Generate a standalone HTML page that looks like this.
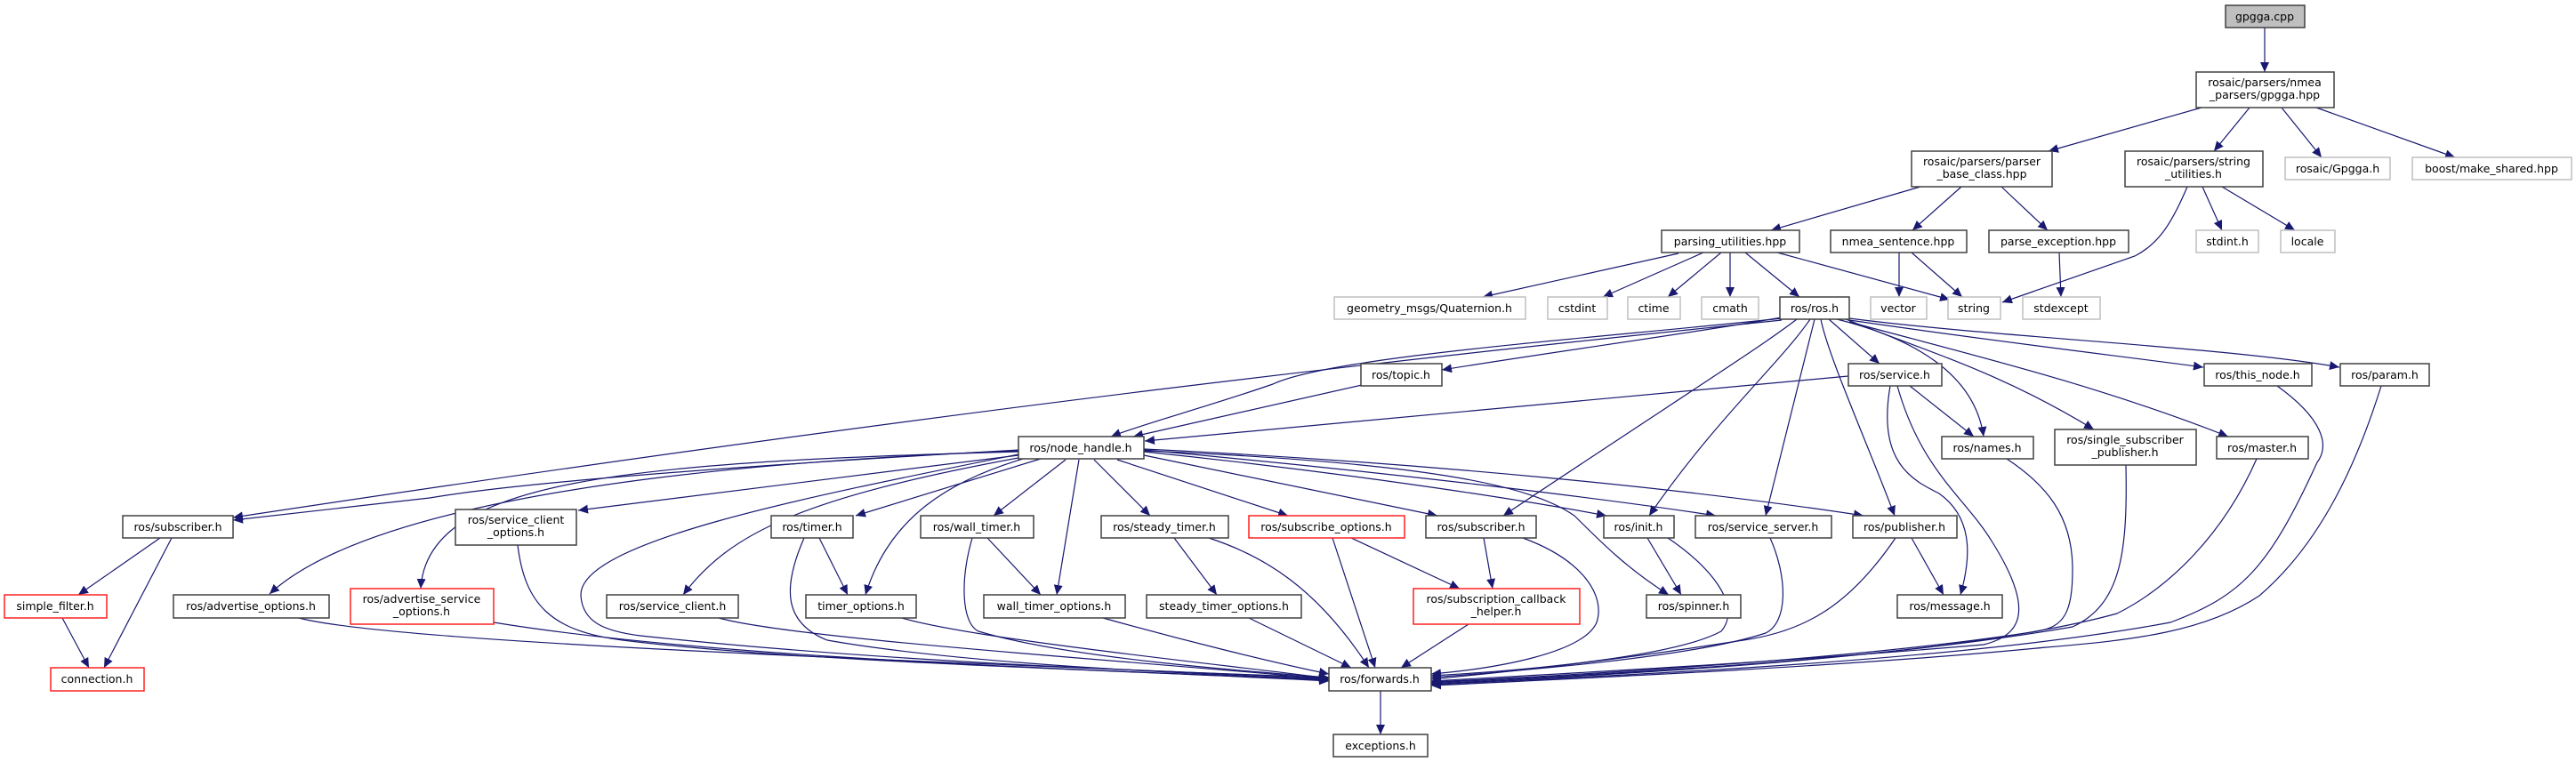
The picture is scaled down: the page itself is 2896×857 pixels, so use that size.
<!DOCTYPE html>
<html><head><meta charset="utf-8"><style>
html,body{margin:0;padding:0;background:#fff;}
svg{display:block;}
text{font-family:"DejaVu Sans","Liberation Sans",sans-serif;font-size:12.5px;fill:#000;text-anchor:middle;}
.n{fill:#fff;stroke:#404040;stroke-width:1.5;}
.g{fill:#fff;stroke:#bfbfbf;stroke-width:1.5;}
.r{fill:#fff;stroke:#ff2020;stroke-width:1.5;}
.e{fill:none;stroke:#191970;stroke-width:1.2;marker-end:url(#a);}
</style></head><body>
<svg width="2896" height="857" viewBox="0 0 2896 857" xmlns="http://www.w3.org/2000/svg">
<defs><marker id="a" markerUnits="userSpaceOnUse" markerWidth="12" markerHeight="10" refX="11" refY="5" orient="auto"><path d="M0,0 L11,5 L0,10 z" fill="#191970"/></marker></defs>
<g>
<path class="e" d="M2546,31 L2546,81"/>
<path class="e" d="M2475,121 L2303,170"/>
<path class="e" d="M2529,121 L2489,170"/>
<path class="e" d="M2565,121 L2610,177"/>
<path class="e" d="M2604,121 L2760,177"/>
<path class="e" d="M2159,210 L1991,259"/>
<path class="e" d="M2205,210 L2150,259"/>
<path class="e" d="M2250,210 L2302,259"/>
<path class="e" d="M2459,210 C2440,255 2425,275 2400,288 L2251,340"/>
<path class="e" d="M2476,210 L2498,259"/>
<path class="e" d="M2498,210 L2580,259"/>
<path class="e" d="M1887,285 L1667,334"/>
<path class="e" d="M1915,284 L1802,334"/>
<path class="e" d="M1935,284 L1875,334"/>
<path class="e" d="M1945,284 L1945,334"/>
<path class="e" d="M1962,284 L2023,334"/>
<path class="e" d="M1998,284 L2192,337"/>
<path class="e" d="M2135,284 L2135,334"/>
<path class="e" d="M2149,284 L2206,334"/>
<path class="e" d="M2315,284 L2317,334"/>
<path class="e" d="M2003,357 C1900,375 1750,395 1621,416"/>
<path class="e" d="M2003,358 C1800,380 1500,400 1431,432 C1350,460 1290,475 1249,491"/>
<path class="e" d="M1531,433 L1274,491"/>
<path class="e" d="M2078,423 L1287,496"/>
<path class="e" d="M2003,360 C1700,392 1200,440 262,582"/>
<path class="e" d="M2056,359 L2113,409"/>
<path class="e" d="M2020,359 C1980,390 1900,440 1690,580"/>
<path class="e" d="M2035,359 C2000,410 1930,470 1854,580"/>
<path class="e" d="M2040,359 L1985,580"/>
<path class="e" d="M2047,359 C2055,400 2100,500 2130,580"/>
<path class="e" d="M2147,434 L2219,491"/>
<path class="e" d="M2065,359 C2150,380 2220,420 2230,491"/>
<path class="e" d="M2075,359 C2180,400 2250,420 2354,483"/>
<path class="e" d="M2079,362 C2200,395 2350,430 2505,491"/>
<path class="e" d="M2079,360 C2250,385 2380,400 2477,413"/>
<path class="e" d="M2079,358 C2250,380 2500,390 2630,413"/>
<path class="e" d="M2125,434 C2110,520 2150,540 2180,555 C2215,580 2218,620 2204,669"/>
<path class="e" d="M2133,434 C2160,530 2210,560 2240,610 C2290,690 2270,715 2230,725 C2000,745 1750,758 1609,766"/>
<path class="e" d="M2256,516 C2300,545 2330,580 2330,640 C2330,690 2320,705 2290,710 C2100,740 1800,758 1609,767"/>
<path class="e" d="M2390,523 C2392,620 2385,680 2330,705 C2100,745 1800,758 1609,768"/>
<path class="e" d="M2537,516 C2500,600 2440,660 2380,690 C2200,740 1800,760 1609,769"/>
<path class="e" d="M2560,434 C2610,470 2620,500 2605,520 C2550,640 2520,670 2440,700 C2200,745 1800,760 1609,770"/>
<path class="e" d="M2677,434 C2650,520 2610,610 2540,670 C2480,710 2400,720 2300,728 C2100,748 1800,762 1609,771"/>
<path class="e" d="M1145,506 C900,520 600,540 483,560 L262,585"/>
<path class="e" d="M1145,507 C800,520 420,560 303,668"/>
<path class="e" d="M1145,508 C700,520 480,540 473,662"/>
<path class="e" d="M1145,512 L650,574"/>
<path class="e" d="M1150,514 C900,560 820,600 768,669"/>
<path class="e" d="M1170,516 L962,580"/>
<path class="e" d="M1150,516 C1070,540 1000,580 973,669"/>
<path class="e" d="M1198,517 L1117,580"/>
<path class="e" d="M1213,517 L1188,669"/>
<path class="e" d="M1230,517 L1293,580"/>
<path class="e" d="M1256,517 L1448,580"/>
<path class="e" d="M1286,512 L1616,580"/>
<path class="e" d="M1286,508 C1500,530 1700,560 1806,580"/>
<path class="e" d="M1286,506 C1550,530 1800,560 1929,580"/>
<path class="e" d="M1286,505 C1600,520 1900,550 2095,580"/>
<path class="e" d="M1286,507 C1600,520 1720,545 1770,580 C1800,610 1830,640 1876,669"/>
<path class="e" d="M1145,511 C900,560 650,610 653,670 C655,700 680,710 720,715 C1000,745 1300,755 1494,762"/>
<path class="e" d="M180,605 L88,669"/>
<path class="e" d="M193,605 L117,751"/>
<path class="e" d="M70,695 L100,751"/>
<path class="e" d="M336,695 C450,725 1100,745 1494,763"/>
<path class="e" d="M555,700 C800,740 1200,752 1494,765"/>
<path class="e" d="M582,613 C590,680 620,710 700,720 C900,745 1300,755 1494,766"/>
<path class="e" d="M808,695 C900,720 1300,745 1494,764"/>
<path class="e" d="M904,605 C880,660 880,700 930,720 C1100,750 1400,760 1494,764"/>
<path class="e" d="M921,605 L953,669"/>
<path class="e" d="M1014,695 C1100,720 1400,750 1494,763"/>
<path class="e" d="M1110,605 L1170,669"/>
<path class="e" d="M1093,605 C1080,650 1080,700 1100,710 C1200,740 1400,755 1494,762"/>
<path class="e" d="M1240,695 C1330,720 1430,745 1494,758"/>
<path class="e" d="M1320,605 L1368,669"/>
<path class="e" d="M1359,605 C1420,625 1480,660 1539,751"/>
<path class="e" d="M1404,695 L1519,751"/>
<path class="e" d="M1498,605 L1546,751"/>
<path class="e" d="M1519,605 L1641,662"/>
<path class="e" d="M1668,605 L1678,662"/>
<path class="e" d="M1712,605 C1780,630 1805,670 1795,700 C1780,735 1680,752 1609,758"/>
<path class="e" d="M1651,702 L1575,751"/>
<path class="e" d="M1852,605 L1890,669"/>
<path class="e" d="M1875,605 C1920,635 1960,680 1935,710 C1880,740 1700,755 1609,760"/>
<path class="e" d="M1990,605 C2010,650 2010,700 1985,712 C1900,740 1700,755 1609,762"/>
<path class="e" d="M2131,605 C2080,680 2030,710 1960,720 C1800,745 1700,755 1609,764"/>
<path class="e" d="M2149,605 L2185,669"/>
<path class="e" d="M1552,777 L1552,826"/>
</g>
<g>
<rect x="2502" y="6" width="89" height="25" style="fill:#bfbfbf;stroke:#404040;stroke-width:1.5"/><text x="2546" y="23">gpgga.cpp</text>
<rect class="n" x="2469" y="81" width="155" height="40"/><text x="2546" y="97">rosaic/parsers/nmea</text><text x="2546" y="111">_parsers/gpgga.hpp</text>
<rect class="n" x="2149" y="170" width="158" height="40"/><text x="2228" y="186">rosaic/parsers/parser</text><text x="2228" y="200">_base_class.hpp</text>
<rect class="n" x="2389" y="170" width="155" height="40"/><text x="2466" y="186">rosaic/parsers/string</text><text x="2466" y="200">_utilities.h</text>
<rect class="g" x="2569" y="177" width="118" height="25"/><text x="2628" y="194">rosaic/Gpgga.h</text>
<rect class="g" x="2712" y="177" width="179" height="25"/><text x="2801" y="194">boost/make_shared.hpp</text>
<rect class="n" x="1868" y="259" width="155" height="25"/><text x="1945" y="276">parsing_utilities.hpp</text>
<rect class="n" x="2058" y="259" width="153" height="25"/><text x="2134" y="276">nmea_sentence.hpp</text>
<rect class="n" x="2236" y="259" width="157" height="25"/><text x="2314" y="276">parse_exception.hpp</text>
<rect class="g" x="2469" y="259" width="70" height="25"/><text x="2504" y="276">stdint.h</text>
<rect class="g" x="2564" y="259" width="61" height="25"/><text x="2594" y="276">locale</text>
<rect class="g" x="1500" y="334" width="215" height="25"/><text x="1607" y="351">geometry_msgs/Quaternion.h</text>
<rect class="g" x="1740" y="334" width="67" height="25"/><text x="1773" y="351">cstdint</text>
<rect class="g" x="1830" y="334" width="59" height="25"/><text x="1859" y="351">ctime</text>
<rect class="g" x="1913" y="334" width="64" height="25"/><text x="1945" y="351">cmath</text>
<rect class="n" x="2001" y="334" width="78" height="25"/><text x="2040" y="351">ros/ros.h</text>
<rect class="g" x="2103" y="334" width="63" height="25"/><text x="2134" y="351">vector</text>
<rect class="g" x="2190" y="334" width="59" height="25"/><text x="2219" y="351">string</text>
<rect class="g" x="2274" y="334" width="87" height="25"/><text x="2317" y="351">stdexcept</text>
<rect class="n" x="1530" y="409" width="91" height="25"/><text x="1575" y="426">ros/topic.h</text>
<rect class="n" x="2078" y="409" width="105" height="25"/><text x="2130" y="426">ros/service.h</text>
<rect class="n" x="2478" y="409" width="121" height="25"/><text x="2538" y="426">ros/this_node.h</text>
<rect class="n" x="2631" y="409" width="100" height="25"/><text x="2681" y="426">ros/param.h</text>
<rect class="n" x="1145" y="491" width="141" height="25"/><text x="1215" y="508">ros/node_handle.h</text>
<rect class="n" x="2183" y="491" width="103" height="25"/><text x="2234" y="508">ros/names.h</text>
<rect class="n" x="2310" y="483" width="159" height="40"/><text x="2389" y="499">ros/single_subscriber</text><text x="2389" y="513">_publisher.h</text>
<rect class="n" x="2492" y="491" width="103" height="25"/><text x="2543" y="508">ros/master.h</text>
<rect class="n" x="138" y="580" width="124" height="25"/><text x="200" y="597">ros/subscriber.h</text>
<rect class="n" x="512" y="573" width="136" height="40"/><text x="580" y="589">ros/service_client</text><text x="580" y="603">_options.h</text>
<rect class="n" x="867" y="580" width="92" height="25"/><text x="913" y="597">ros/timer.h</text>
<rect class="n" x="1035" y="580" width="127" height="25"/><text x="1098" y="597">ros/wall_timer.h</text>
<rect class="n" x="1238" y="580" width="143" height="25"/><text x="1309" y="597">ros/steady_timer.h</text>
<rect class="r" x="1404" y="580" width="175" height="25"/><text x="1491" y="597">ros/subscribe_options.h</text>
<rect class="n" x="1603" y="580" width="124" height="25"/><text x="1665" y="597">ros/subscriber.h</text>
<rect class="n" x="1803" y="580" width="79" height="25"/><text x="1842" y="597">ros/init.h</text>
<rect class="n" x="1906" y="580" width="153" height="25"/><text x="1982" y="597">ros/service_server.h</text>
<rect class="n" x="2083" y="580" width="117" height="25"/><text x="2141" y="597">ros/publisher.h</text>
<rect class="r" x="5" y="669" width="115" height="26"/><text x="62" y="686">simple_filter.h</text>
<rect class="n" x="195" y="669" width="175" height="26"/><text x="282" y="686">ros/advertise_options.h</text>
<rect class="r" x="394" y="662" width="161" height="40"/><text x="474" y="678">ros/advertise_service</text><text x="474" y="692">_options.h</text>
<rect class="n" x="682" y="669" width="148" height="26"/><text x="756" y="686">ros/service_client.h</text>
<rect class="n" x="906" y="669" width="124" height="26"/><text x="968" y="686">timer_options.h</text>
<rect class="n" x="1106" y="669" width="159" height="26"/><text x="1185" y="686">wall_timer_options.h</text>
<rect class="n" x="1289" y="669" width="174" height="26"/><text x="1376" y="686">steady_timer_options.h</text>
<rect class="r" x="1589" y="662" width="187" height="40"/><text x="1682" y="678">ros/subscription_callback</text><text x="1682" y="692">_helper.h</text>
<rect class="n" x="1851" y="669" width="106" height="26"/><text x="1904" y="686">ros/spinner.h</text>
<rect class="n" x="2133" y="669" width="118" height="26"/><text x="2192" y="686">ros/message.h</text>
<rect class="r" x="57" y="751" width="105" height="26"/><text x="109" y="768">connection.h</text>
<rect class="n" x="1494" y="751" width="115" height="26"/><text x="1551" y="768">ros/forwards.h</text>
<rect class="n" x="1499" y="826" width="106" height="25"/><text x="1552" y="843">exceptions.h</text>
</g>
</svg>
</body></html>
